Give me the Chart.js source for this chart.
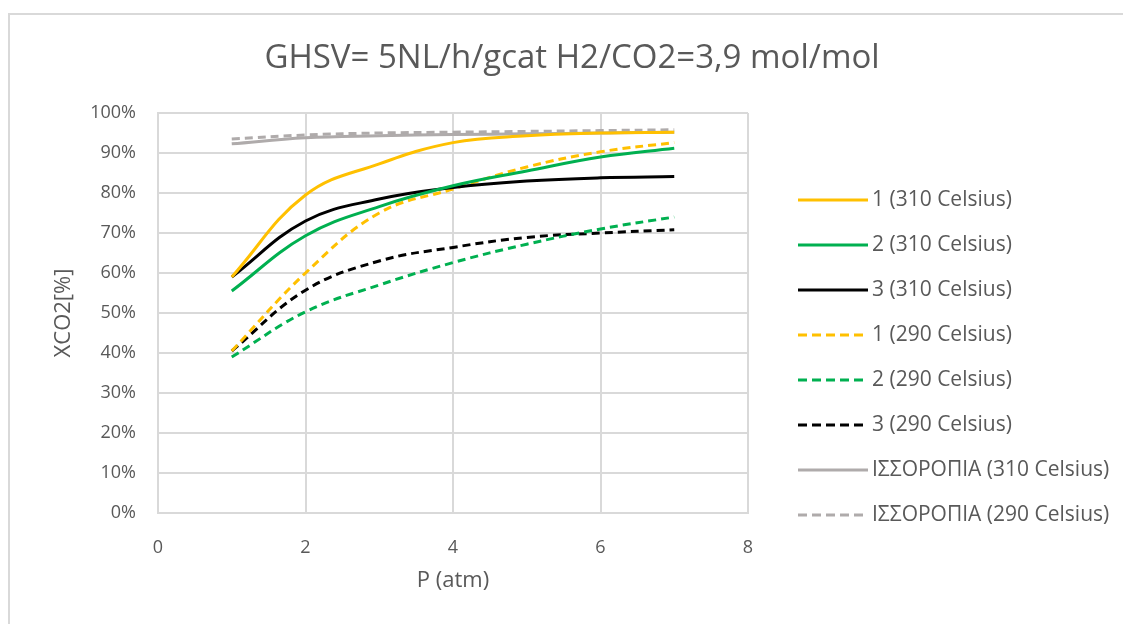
<!DOCTYPE html>
<html>
<head>
<meta charset="utf-8">
<title>XCO2</title>
<script src="https://cdn.jsdelivr.net/npm/chart.js@4.4.0/dist/chart.umd.min.js"></script>
<style>
	body { margin: 0; background: #fff; }
	#frame { position: absolute; left: 8px; top: 13px; width: 1200px; height: 700px; border-left: 2px solid #d9d9d9; border-top: 2px solid #d9d9d9; }
	#graph-container { position: absolute; left: 0; top: 0; width: 1123px; height: 624px; }
</style>
</head>
<body>
<div id="frame"></div>
<div id="graph-container">
	<canvas id="line-chart"></canvas>
</div>
<script type="text/javascript">

	// P (atm)
	var presion = [1, 2, 3, 4, 5, 6, 7];

	// XCO2 in %
	var s1_310 = [59, 79.5, 87.3, 92.6, 94.3, 95, 95.2];
	var s2_310 = [55.5, 69.3, 76.6, 81.8, 85.5, 89, 91.2];
	var s3_310 = [59, 73, 78.5, 81.4, 83, 83.8, 84.1];
	var s1_290 = [40.5, 60, 75, 81, 86.5, 90.3, 92.6];
	var s2_290 = [39, 50.3, 57, 62.6, 67.2, 71, 74];
	var s3_290 = [40.5, 55.7, 63, 66.4, 68.9, 70, 70.8];
	var eq_310 = [92.3, 93.8, 94.3, 94.6, 94.8, 95, 95.2];
	var eq_290 = [93.5, 94.5, 95, 95.2, 95.4, 95.6, 95.8];

	var nombres = ['1 (310 Celsius)', '2 (310 Celsius)', '3 (310 Celsius)', '1 (290 Celsius)',
		'2 (290 Celsius)', '3 (290 Celsius)', 'ΙΣΣΟΡΟΠΙΑ (310 Celsius)', 'ΙΣΣΟΡΟΠΙΑ (290 Celsius)'];
	var colores = ['#ffc000', '#00b050', '#000000', '#ffc000', '#00b050', '#000000', '#afabab', '#afabab'];
	var series = [s1_310, s2_310, s3_310, s1_290, s2_290, s3_290, eq_310, eq_290];

	var titulo = 'GHSV= 5NL/h/gcat H2/CO2=3,9 mol/mol';
	var texto = '#595959';
	var rejilla = '#d9d9d9';
	var fuente = '"Open Sans", Lato, sans-serif';

	function puntos(valores) {
		return presion.map(function(p, i) { return { x: p, y: valores[i] }; });
	}

	var datasets = series.map(function(s, i) {
		return {
			label: nombres[i],
			data: puntos(s),
			borderColor: colores[i],
			backgroundColor: colores[i],
			borderWidth: 3,
			borderDash: (i >= 3 && i !== 6) ? [8, 5] : [],
			pointRadius: 0,
			tension: 0.4
		};
	});

	// title and legend drawn by hand: the title spans the whole picture, the legend sits at the right
	var extras = {
		id: 'extras',
		afterDraw: function(chart) {
			var ctx = chart.ctx;
			ctx.save();
			ctx.fillStyle = texto;
			ctx.textBaseline = 'middle';
			ctx.textAlign = 'center';
			ctx.font = '33px ' + fuente;
			ctx.fillText(titulo, 572, 59);
			ctx.textAlign = 'left';
			ctx.font = '21px ' + fuente;
			chart.data.datasets.forEach(function(ds, i) {
				var y = 200 + i * 45;
				ctx.beginPath();
				ctx.strokeStyle = ds.borderColor;
				ctx.lineWidth = 3;
				ctx.setLineDash(ds.borderDash.length ? [9, 5] : []);
				ctx.moveTo(798, y);
				ctx.lineTo(868, y);
				ctx.stroke();
				ctx.fillText(ds.label, 872, y);
			});
			ctx.restore();
		}
	};

	var ctx = document.getElementById('line-chart').getContext('2d');
	window.chartJS = new Chart(ctx, {
		type: 'line',
		data: { datasets: datasets },
		plugins: [extras],
		options: {
			responsive: true,
			maintainAspectRatio: false,
			animation: false,
			layout: { padding: { left: 0, right: 375, top: 113, bottom: 0 } },
			plugins: {
				legend: { display: false },
				tooltip: { enabled: false },
				title: { display: false }
			},
			scales: {
				x: {
					type: 'linear',
					min: 0,
					max: 8,
					ticks: { stepSize: 2, color: texto, font: { family: fuente, size: 18 }, padding: 24 },
					grid: { color: rejilla, lineWidth: 2, drawTicks: false },
					border: { color: rejilla, width: 2 },
					title: { display: true, text: 'P (atm)', color: texto, font: { family: fuente, size: 22 }, padding: { top: 0, bottom: 30 } },
					afterFit: function(scale) { scale.height = 111; }
				},
				y: {
					min: 0,
					max: 100,
					ticks: { stepSize: 10, color: texto, font: { family: fuente, size: 18 }, padding: 22,
						callback: function(v) { return v + '%'; } },
					grid: { color: rejilla, lineWidth: 2, drawTicks: false },
					border: { color: rejilla, width: 2 },
					title: { display: true, text: 'XCO2[%]', color: texto, font: { family: fuente, size: 22 }, padding: { top: 51, bottom: 0 } },
					afterFit: function(scale) { scale.width = 158; }
				}
			}
		}
	});

</script>
</body>
</html>
